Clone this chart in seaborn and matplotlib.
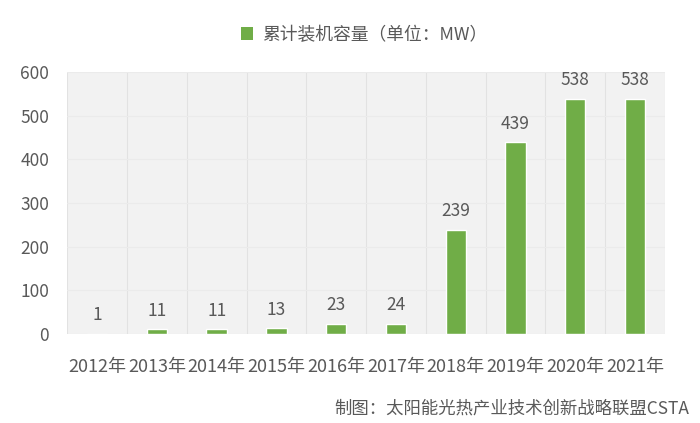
import matplotlib
matplotlib.use("Agg")
import matplotlib.pyplot as plt
import seaborn as sns
from matplotlib.patches import Patch

# 数据
years = ["2012年", "2013年", "2014年", "2015年", "2016年", "2017年",
         "2018年", "2019年", "2020年", "2021年"]
capacity = [1, 11, 11, 13, 23, 24, 239, 439, 538, 538]
y_ticks = [0, 100, 200, 300, 400, 500, 600]

legend_label = "累计装机容量（单位：MW）"
source_note = "制图：太阳能光热产业技术创新战略联盟CSTA"

bar_color = "#70ad47"
text_color = "#595959"

sns.set_theme(style="white")
plt.rcParams['font.family'] = ['Noto Sans CJK SC', 'DejaVu Sans']

fig = plt.figure(figsize=(7, 4.23), dpi=100)
ax = fig.add_axes([0.096, 0.21, 0.854, 0.62])
ax.set_facecolor("#f2f2f2")

sns.barplot(x=years, y=capacity, color=bar_color, width=0.34,
            saturation=1, ax=ax, zorder=3)

ax.bar_label(ax.containers[0], labels=[str(v) for v in capacity],
             padding=7, fontsize=12.5, color=text_color)

ax.set_ylim(0, 600)
ax.set_yticks(y_ticks)
ax.set_xlim(-0.5, len(years) - 0.5)
ax.set_xticks([i - 0.5 for i in range(len(years) + 1)], minor=True)
ax.grid(axis="x", which="minor", color="#e2e2e2", linewidth=0.8, zorder=0)
ax.grid(axis="y", which="major", color="#ebebeb", linewidth=0.8, zorder=0)
ax.set_axisbelow(True)

ax.tick_params(axis="y", length=0, pad=13, labelsize=12.5, labelcolor=text_color)
ax.tick_params(axis="x", which="both", length=0, pad=17, labelsize=13, labelcolor=text_color)
for s in ax.spines.values():
    s.set_visible(False)
ax.set_xlabel("")
ax.set_ylabel("")

handle = Patch(facecolor=bar_color, edgecolor="none")
fig.legend([handle], [legend_label], loc="center", bbox_to_anchor=(0.52, 0.918),
           frameon=False, fontsize=12.8, labelcolor=text_color,
           handlelength=0.7, handleheight=0.7, handletextpad=0.5)

fig.text(0.985, 0.035, source_note, ha="right", va="center",
         fontsize=12.5, color=text_color)

fig.savefig("out.png", dpi=100, facecolor="white")
